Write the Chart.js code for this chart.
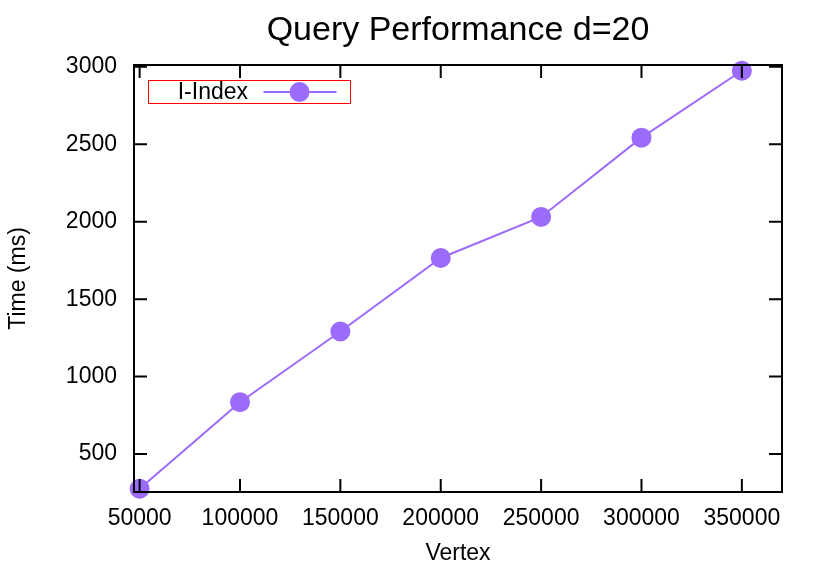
<!DOCTYPE html>
<html>
<head>
<meta charset="utf-8">
<script src="https://cdn.jsdelivr.net/npm/chart.js@4"></script>
<style>
  html, body { margin: 0; padding: 0; background: #fff; }
  #wrap { width: 830px; height: 574px; }
</style>
</head>
<body>
<div id="wrap"><canvas id="perfChart"></canvas></div>
<script>
const vertices = [50000, 100000, 150000, 200000, 250000, 300000, 350000];
const timesMs = [276, 835, 1291, 1766, 2031, 2543, 2975];
const xTicks = [50000, 100000, 150000, 200000, 250000, 300000, 350000];
const yTicks = [500, 1000, 1500, 2000, 2500, 3000];

const purple = '#9b6bfb';
const fontFamily = '"Liberation Sans", Arial, Helvetica, sans-serif';

// gnuplot-like frame: border plus inward ticks mirrored on all sides
const framePlugin = {
  id: 'frame',
  afterDatasetsDraw(chart) {
    const { ctx, chartArea: a, scales: { x, y } } = chart;
    const len = 13;
    ctx.save();
    ctx.strokeStyle = '#000';
    ctx.lineWidth = 2;
    ctx.beginPath();
    xTicks.forEach(v => {
      const px = x.getPixelForValue(v);
      ctx.moveTo(px, a.bottom); ctx.lineTo(px, a.bottom - len);
      ctx.moveTo(px, a.top); ctx.lineTo(px, a.top + len);
    });
    yTicks.forEach(v => {
      const py = y.getPixelForValue(v);
      ctx.moveTo(a.left, py); ctx.lineTo(a.left + len, py);
      ctx.moveTo(a.right, py); ctx.lineTo(a.right - len, py);
    });
    ctx.stroke();
    ctx.strokeRect(a.left, a.top, a.right - a.left, a.bottom - a.top);
    ctx.restore();
  },
  afterDraw(chart) {
    // legend box: text first, then sample line with marker
    const { ctx, chartArea: a } = chart;
    const ds = chart.data.datasets[0];
    const bx = a.left + 14.5, by = a.top + 15.5, bw = 202, bh = 23;
    const cy = by + bh / 2;
    ctx.save();
    ctx.strokeStyle = '#ff0000';
    ctx.lineWidth = 1;
    ctx.strokeRect(bx, by, bw, bh);
    ctx.fillStyle = '#000';
    ctx.font = '23px ' + fontFamily;
    ctx.textAlign = 'right';
    ctx.textBaseline = 'middle';
    ctx.fillText(ds.label, bx + 99.5, cy + 1);
    ctx.strokeStyle = purple;
    ctx.lineWidth = 2;
    ctx.beginPath();
    ctx.moveTo(bx + 115, cy);
    ctx.lineTo(bx + 188, cy);
    ctx.stroke();
    ctx.fillStyle = purple;
    ctx.beginPath();
    ctx.arc(bx + 151, cy, 10, 0, Math.PI * 2);
    ctx.fill();
    ctx.restore();
  }
};

const ctx = document.getElementById('perfChart').getContext('2d');
const chart = new Chart(ctx, {
  type: 'line',
  data: {
    datasets: [
      {
        label: 'I-Index',
        data: vertices.map((v, i) => ({ x: v, y: timesMs[i] })),
        borderColor: purple,
        backgroundColor: purple,
        borderWidth: 2,
        pointRadius: 10,
        pointHoverRadius: 10,
        pointBorderWidth: 0,
        fill: false,
        tension: 0,
        clip: false,
      },
    ],
  },
  options: {
    responsive: true,
    maintainAspectRatio: false,
    animation: false,
    layout: { padding: { top: 0, right: 48, bottom: 0, left: 0 } },
    plugins: {
      legend: { display: false },
      tooltip: { enabled: false },
      title: {
        display: true,
        fullSize: false,
        text: 'Query Performance d=20',
        color: '#000',
        font: { family: fontFamily, size: 34, weight: 'normal' },
        padding: { top: 10.5, bottom: 13.7 }
      }
    },
    scales: {
      x: {
        type: 'linear',
        min: 47200,
        max: 370000,
        grid: { display: false, drawTicks: false },
        border: { display: false },
        afterBuildTicks: s => { s.ticks = xTicks.map(v => ({ value: v })); },
        afterFit: s => { s.height = 82; },
        ticks: {
          color: '#000',
          padding: 13,
          maxRotation: 0,
          font: { family: fontFamily, size: 23 },
          callback: v => String(v)
        },
        title: {
          display: true,
          text: 'Vertex',
          color: '#000',
          font: { family: fontFamily, size: 23 },
          padding: { top: 0, bottom: 7 }
        }
      },
      y: {
        min: 255,
        max: 3012,
        grid: { display: false, drawTicks: false },
        border: { display: false },
        afterBuildTicks: s => { s.ticks = yTicks.map(v => ({ value: v })); },
        afterFit: s => { s.width = 134; },
        ticks: {
          color: '#000',
          padding: 17,
          font: { family: fontFamily, size: 23 },
          callback: v => String(v)
        },
        title: {
          display: true,
          text: 'Time (ms)',
          color: '#000',
          font: { family: fontFamily, size: 23 },
          padding: { top: 5, bottom: 0 }
        }
      }
    }
  },
  plugins: [framePlugin]
});
</script>
</body>
</html>
